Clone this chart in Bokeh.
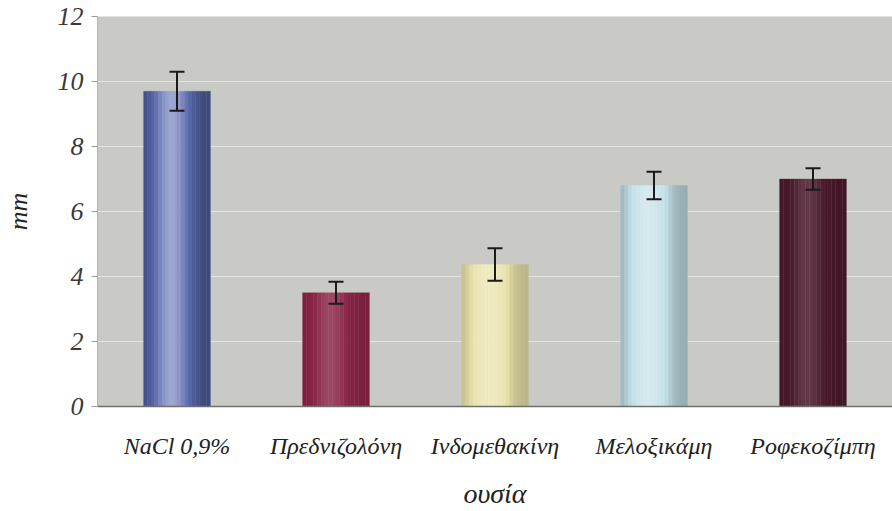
import math
from bokeh.plotting import figure
from bokeh.models import ColumnDataSource, Whisker, TeeHead, FixedTicker
from bokeh.transform import dodge
from bokeh.embed import file_html
from bokeh.resources import INLINE

# ---- data ----
categories = ["NaCl 0,9%", "Πρεδνιζολόνη", "Ινδομεθακίνη", "Μελοξικάμη", "Ροφεκοζίμπη"]
means = [9.7, 3.5, 4.37, 6.8, 7.0]
errors = [0.6, 0.34, 0.5, 0.42, 0.33]
y_ticks = [0, 2, 4, 6, 8, 10, 12]

# ---- style ----
bar_colors = ["#5a6ab0", "#8a2547", "#ece4ad", "#c4e2ea", "#4a1a2c"]
shade_strength = [0.9, 0.35, 0.6, 0.7, 0.3]
BAR_W = 0.42
N_SLICES = 18
FONT = "Liberation Serif"

def hex2rgb(h):
    h = h.lstrip("#")
    return [int(h[i:i + 2], 16) for i in (0, 2, 4)]

def shade(h, m):
    r = hex2rgb(h)
    if m >= 0:
        out = [c + (255 - c) * m for c in r]
    else:
        out = [c * (1 + m) for c in r]
    return "#%02x%02x%02x" % tuple(int(max(0, min(255, v))) for v in out)

p = figure(x_range=categories, y_range=(0, 12), width=892, height=511,
           output_backend="svg", toolbar_location=None,
           min_border_left=93, min_border_right=0, min_border_top=16,
           min_border_bottom=104)
p.background_fill_color = "#c9c9c5"
p.border_fill_color = "white"
p.outline_line_color = None

p.xgrid.grid_line_color = None
p.ygrid.grid_line_color = "#f0f0f0"
p.ygrid.grid_line_width = 1.2
p.ygrid.grid_line_alpha = 0.7

# cylindrical bars made of thin shaded slices
for k in range(N_SLICES):
    t = (k + 0.5) / N_SLICES
    off = -BAR_W / 2 + t * BAR_W
    prof = math.exp(-((t - 0.42) / 0.28) ** 2)  # highlight
    cols = []
    for c, s in zip(bar_colors, shade_strength):
        m = s * (0.45 * prof - 0.35 * (1 - prof))
        cols.append(shade(c, m))
    src = ColumnDataSource(dict(x=categories, top=means, color=cols))
    p.vbar(x=dodge("x", off, range=p.x_range), top="top", width=BAR_W / N_SLICES * 1.02,
           source=src, fill_color="color", line_color="color", line_width=0.3)

err_src = ColumnDataSource(dict(x=categories,
                                upper=[m + e for m, e in zip(means, errors)],
                                lower=[m - e for m, e in zip(means, errors)]))
w = Whisker(source=err_src, base="x", upper="upper", lower="lower",
            line_color="#1a1a1a", line_width=2, level="overlay",
            upper_head=TeeHead(size=15, line_color="#1a1a1a", line_width=2),
            lower_head=TeeHead(size=15, line_color="#1a1a1a", line_width=2))
p.add_layout(w)

# axes
p.yaxis.ticker = FixedTicker(ticks=y_ticks)
p.yaxis.axis_label = "mm"
p.yaxis.axis_label_text_font = FONT
p.yaxis.axis_label_text_font_style = "italic"
p.yaxis.axis_label_text_font_size = "26px"
p.yaxis.axis_label_text_color = "#222222"
p.yaxis.axis_label_standoff = 22
p.yaxis.major_label_text_font = FONT
p.yaxis.major_label_text_font_style = "italic"
p.yaxis.major_label_text_font_size = "26px"
p.yaxis.major_label_text_color = "#3a3a3a"
p.yaxis.major_label_standoff = 8
p.yaxis.axis_line_color = "#b5b5b5"
p.yaxis.major_tick_line_color = "#999999"
p.yaxis.major_tick_out = 6
p.yaxis.major_tick_in = 0
p.yaxis.minor_tick_line_color = None

p.xaxis.axis_label = "ουσία"
p.xaxis.axis_label_text_font = FONT
p.xaxis.axis_label_text_font_style = "italic"
p.xaxis.axis_label_text_font_size = "28px"
p.xaxis.axis_label_text_color = "#222222"
p.xaxis.axis_label_standoff = 16
p.xaxis.major_label_text_font = FONT
p.xaxis.major_label_text_font_style = "italic"
p.xaxis.major_label_text_font_size = "24px"
p.xaxis.major_label_text_color = "#222222"
p.xaxis.major_label_standoff = 20
p.xaxis.axis_line_color = "#6f6f6f"
p.xaxis.axis_line_width = 1.5
p.xaxis.major_tick_line_color = None
p.xaxis.minor_tick_line_color = None

open("out.html", "w").write(file_html(p, INLINE))
